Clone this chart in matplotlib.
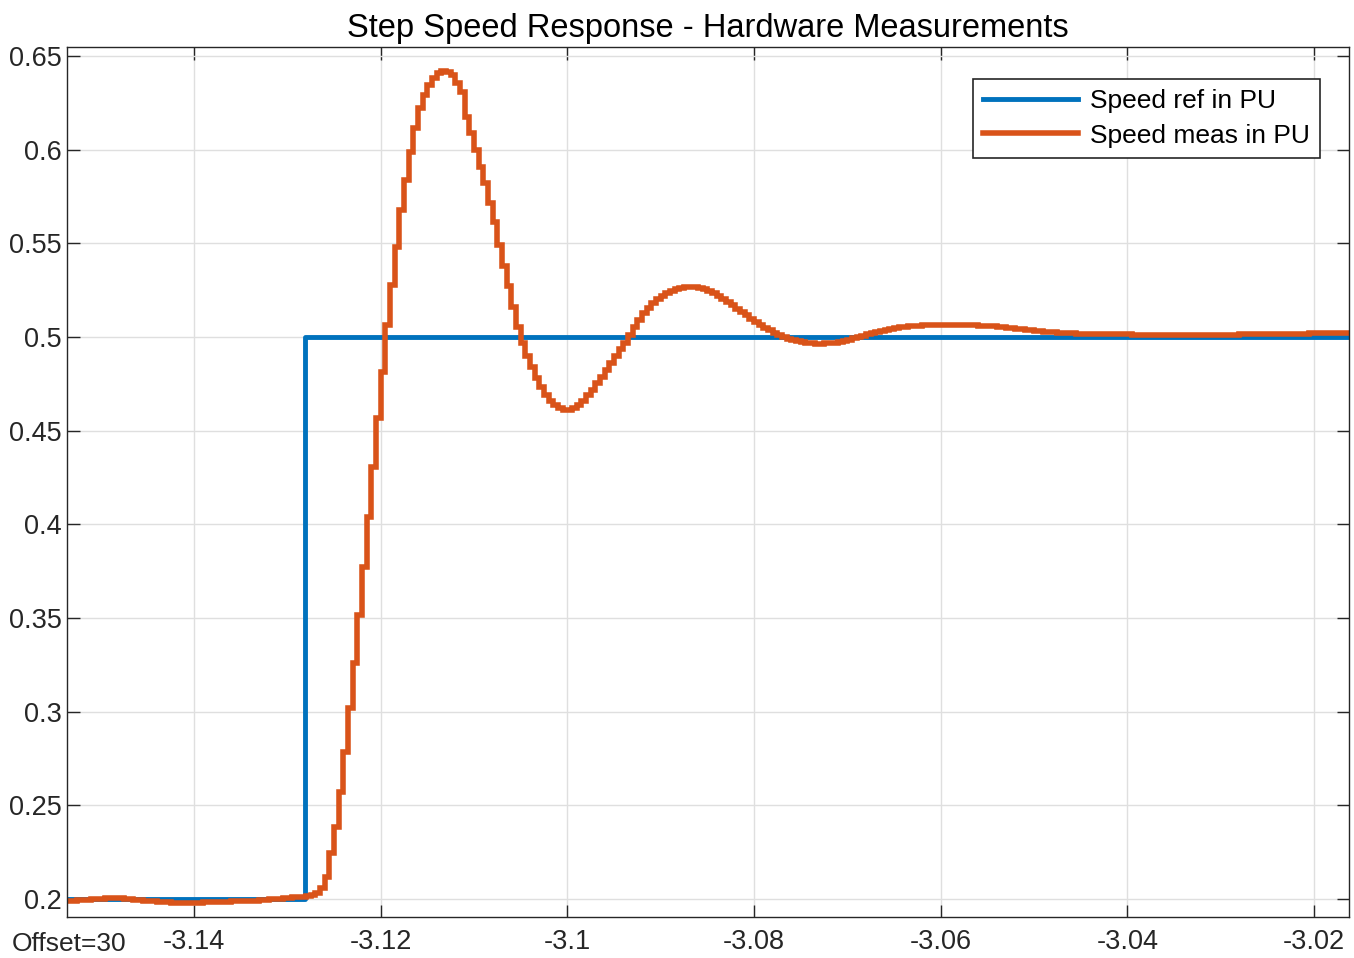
import matplotlib
matplotlib.use("Agg")
import matplotlib.pyplot as plt
import numpy as np

plt.rcParams['font.family'] = ['Liberation Sans', 'DejaVu Sans']

# speed reference (per unit): a single step
ref_time = [-3.154, -3.1281, -3.0155]
ref_speed = [0.2, 0.5, 0.5]

# measured speed (per unit), sampled every 0.5 ms
meas_t0 = -3.154
meas_dt = 0.0005
meas_speed = [
    0.1986, 0.1988, 0.1990, 0.1992, 0.1994, 0.1995, 0.1997, 0.1999, 0.2001, 0.2002,
    0.2003, 0.2003, 0.2002, 0.2000, 0.1998, 0.1995, 0.1993, 0.1990, 0.1988, 0.1986,
    0.1984, 0.1982, 0.1981, 0.1980, 0.1980, 0.1979, 0.1979, 0.1979, 0.1980, 0.1980,
    0.1981, 0.1981, 0.1982, 0.1983, 0.1984, 0.1985, 0.1986, 0.1987, 0.1988, 0.1989,
    0.1990, 0.1991, 0.1993, 0.1995, 0.1997, 0.1999, 0.2001, 0.2003, 0.2005, 0.2008,
    0.2010, 0.2012, 0.2015, 0.2018, 0.2030, 0.2060, 0.2117, 0.2245, 0.2384, 0.2571,
    0.2784, 0.3019, 0.3260, 0.3516, 0.3772, 0.4039, 0.4306, 0.4568, 0.4813, 0.5064,
    0.5278, 0.5481, 0.5678, 0.5838, 0.5988, 0.6116, 0.6223, 0.6292, 0.6345, 0.6383,
    0.6410, 0.6420, 0.6415, 0.6399, 0.6356, 0.6308, 0.6175, 0.6089, 0.5998, 0.5908,
    0.5822, 0.5715, 0.5614, 0.5491, 0.5379, 0.5272, 0.5160, 0.5053, 0.4968, 0.4899,
    0.4840, 0.4781, 0.4733, 0.4690, 0.4658, 0.4637, 0.4621, 0.4610, 0.4610, 0.4621,
    0.4637, 0.4658, 0.4690, 0.4717, 0.4754, 0.4786, 0.4824, 0.4861, 0.4899, 0.4936,
    0.4968, 0.5011, 0.5053, 0.5091, 0.5128, 0.5155, 0.5182, 0.5203, 0.5219, 0.5235,
    0.5246, 0.5256, 0.5262, 0.5267, 0.5267, 0.5267, 0.5262, 0.5256, 0.5246, 0.5235,
    0.5219, 0.5203, 0.5187, 0.5171, 0.5149, 0.5133, 0.5117, 0.5096, 0.5080, 0.5064,
    0.5048, 0.5037, 0.5021, 0.5011, 0.5000, 0.4989, 0.4984, 0.4979, 0.4973, 0.4968,
    0.4968, 0.4965, 0.4965, 0.4966, 0.4968, 0.4970, 0.4973, 0.4977, 0.4984, 0.4995,
    0.5000, 0.5005, 0.5016, 0.5022, 0.5027, 0.5032, 0.5037, 0.5042, 0.5048, 0.5052,
    0.5053, 0.5056, 0.5059, 0.5061, 0.5063, 0.5064, 0.5065, 0.5066, 0.5066, 0.5066,
    0.5065, 0.5065, 0.5064, 0.5063, 0.5063, 0.5062, 0.5061, 0.5059, 0.5058, 0.5056,
    0.5054, 0.5052, 0.5049, 0.5047, 0.5044, 0.5041, 0.5038, 0.5035, 0.5033, 0.5030,
    0.5028, 0.5026, 0.5024, 0.5022, 0.5021, 0.5020, 0.5019, 0.5018, 0.5018, 0.5017,
    0.5017, 0.5016, 0.5016, 0.5015, 0.5015, 0.5015, 0.5014, 0.5014, 0.5014, 0.5013,
    0.5013, 0.5013, 0.5013, 0.5012, 0.5012, 0.5012, 0.5012, 0.5012, 0.5011, 0.5011,
    0.5011, 0.5011, 0.5011, 0.5011, 0.5012, 0.5012, 0.5012, 0.5012, 0.5013, 0.5013,
    0.5013, 0.5013, 0.5014, 0.5014, 0.5014, 0.5015, 0.5015, 0.5015, 0.5016, 0.5016,
    0.5016, 0.5017, 0.5017, 0.5017, 0.5018, 0.5018, 0.5018, 0.5019, 0.5019, 0.5019,
    0.5020, 0.5020, 0.5020, 0.5021, 0.5021, 0.5021, 0.5022,
]
meas_time = meas_t0 + meas_dt * np.arange(len(meas_speed))

x_ticks = [-3.14, -3.12, -3.10, -3.08, -3.06, -3.04, -3.02]
x_labels = ['-3.14', '-3.12', '-3.1', '-3.08', '-3.06', '-3.04', '-3.02']
y_ticks = [0.2, 0.25, 0.3, 0.35, 0.4, 0.45, 0.5, 0.55, 0.6, 0.65]
y_labels = ['0.2', '0.25', '0.3', '0.35', '0.4', '0.45', '0.5', '0.55', '0.6', '0.65']

BLUE = '#0072BD'
ORANGE = '#D95319'
AXCOL = '#262626'

fig = plt.figure(figsize=(13.54, 9.58), dpi=100)
ax = fig.add_axes([0.0495, 0.0428, 0.9468, 0.9081])

ax.plot(ref_time, ref_speed, drawstyle='steps-post', color=BLUE, lw=3.5,
        label='Speed ref in PU')
ax.plot(meas_time, meas_speed, drawstyle='steps-post', color=ORANGE, lw=4.0,
        label='Speed meas in PU', solid_joinstyle='miter')

ax.set_xlim(-3.15361, -3.01625)
ax.set_ylim(0.1903, 0.6548)
ax.set_xticks(x_ticks)
ax.set_xticklabels(x_labels)
ax.set_yticks(y_ticks)
ax.set_yticklabels(y_labels)

ax.grid(True, color='#DFDFDF', lw=1.0)
ax.set_axisbelow(True)
ax.tick_params(direction='in', length=9, width=1.0, colors=AXCOL,
               labelsize=19.5, top=True, right=True, pad=4)
ax.tick_params(axis='x', pad=9)
for sp in ax.spines.values():
    sp.set_color(AXCOL)
    sp.set_linewidth(1.0)

ax.set_title('Step Speed Response - Hardware Measurements', fontsize=23.5,
             color='black', pad=7)

leg = ax.legend(loc='upper right', bbox_to_anchor=(0.9774, 0.9632),
                borderaxespad=0, fontsize=19, handlelength=3.6,
                fancybox=False, framealpha=1, edgecolor=AXCOL,
                labelspacing=0.4, borderpad=0.38, handletextpad=0.45)
leg.get_frame().set_linewidth(1.2)

fig.text(0.009, 0.007, 'Offset=30', fontsize=19, color=AXCOL,
         ha='left', va='baseline')

fig.savefig('out.png', dpi=100)
